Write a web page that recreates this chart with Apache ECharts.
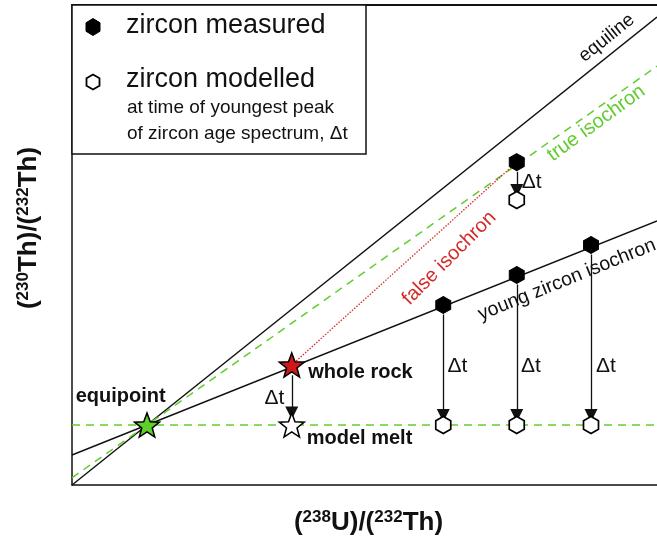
<!DOCTYPE html>
<html>
<head>
<meta charset="utf-8">
<script src="https://cdn.jsdelivr.net/npm/echarts@6/dist/echarts.min.js"></script>
<style>html,body{margin:0;padding:0;background:#fff}#c{width:657px;height:537px}</style>
</head>
<body>
<div id="c"></div>
<script>
// ---- data (schematic units) ----
const equiline = [[0, 0], [7.8, 7.8]];
const trueIsochron = [[0, 0.12], [7.8, 6.98]];
const youngIsochron = [[0, 0.5], [7.8, 4.4]];
const meltLevel = [[0, 1], [7.8, 1]];
const falseIsochron = [[2.93, 2.0], [5.93, 5.38]];
const equipoint = [1, 1];
const wholeRock = [2.93, 2.0];
const modelMelt = [2.93, 1.0];
const zirconMeasured = [[5.93, 5.38], [4.95, 3.0], [5.93, 3.5], [6.92, 4.0]];
const zirconModelled = [[5.93, 4.75], [4.95, 1.0], [5.93, 1.0], [6.92, 1.0]];
const deltaLabel = 'Δt';

const FONT = 'Liberation Sans, Arial, sans-serif';
const GREEN = '#62cc2f';
const RED = '#d42a2a';

function starPath() {
  const pts = [];
  for (let i = 0; i < 10; i++) {
    const r = i % 2 === 0 ? 1 : 0.42;
    const a = -Math.PI / 2 + i * Math.PI / 5;
    pts.push((r * Math.cos(a)).toFixed(3) + ',' + (r * Math.sin(a)).toFixed(3));
  }
  return 'path://M' + pts.join(' L') + ' Z';
}
const STAR = starPath();
const HEX = 'path://M0,-1 L0.866,-0.5 L0.866,0.5 L0,1 L-0.866,0.5 L-0.866,-0.5 Z';
const ARROW = 'path://M5,0 L10,14 L0,14 Z';

function hexPoints(cx, cy, rx, ry) {
  return [[cx, cy - ry], [cx + rx, cy - ry / 2], [cx + rx, cy + ry / 2], [cx, cy + ry], [cx - rx, cy + ry / 2], [cx - rx, cy - ry / 2]];
}

// arrows from measured to modelled (gaps keep heads clear of symbols)
const arrows = [];
arrows.push([[wholeRock[0], wholeRock[1] - 0.17], [modelMelt[0], modelMelt[1] + 0.2]]);
zirconMeasured.forEach((m, i) => {
  const d = zirconModelled[i];
  arrows.push([[m[0], m[1] - 0.16], [d[0], d[1] + 0.16]]);
});

function lineSeries(data, color, type, width) {
  return {
    type: 'line', data: data, symbol: 'none', silent: true, z: 2,
    lineStyle: { color: color, width: width || 1.5, type: type || 'solid' }
  };
}

const annotations = [
  { value: [0.05, 1.47], label: { formatter: 'equipoint', align: 'left', fontWeight: 'bold', fontSize: 20 } },
  { value: [wholeRock[0] + 0.22, wholeRock[1] - 0.13], label: { formatter: 'whole rock', align: 'left', fontWeight: 'bold', fontSize: 20 } },
  { value: [modelMelt[0] + 0.2, modelMelt[1] - 0.22], label: { formatter: 'model melt', align: 'left', fontWeight: 'bold', fontSize: 20 } },
  { value: [wholeRock[0] - 0.23, 1.45], label: { formatter: deltaLabel } },
  { value: [zirconMeasured[0][0] + 0.2, 5.05], label: { formatter: deltaLabel } },
  { value: [zirconMeasured[1][0] + 0.19, 1.98], label: { formatter: deltaLabel } },
  { value: [zirconMeasured[2][0] + 0.19, 1.98], label: { formatter: deltaLabel } },
  { value: [zirconMeasured[3][0] + 0.2, 1.98], label: { formatter: deltaLabel } },
  { value: [7.13, 7.45], label: { formatter: 'equiline', rotate: 38.7, fontSize: 19 } },
  { value: [6.99, 6.03], label: { formatter: 'true isochron', rotate: 36, fontSize: 20, color: GREEN } },
  { value: [5.03, 3.78], label: { formatter: 'false isochron', rotate: 45, fontSize: 20, color: RED } },
  { value: [6.6, 3.42], label: { formatter: 'young zircon isochron', rotate: 22, fontSize: 19.5 } }
];

const supStyle = { fontFamily: FONT, fontWeight: 'bold', fontSize: 17, color: '#111', padding: [0, 0, 10, 0] };

const chart = echarts.init(document.getElementById('c'), null, { renderer: 'canvas' });
chart.setOption({
  animation: false,
  backgroundColor: '#fff',
  grid: { left: 72, top: 5, width: 585, height: 480, show: false, outerBoundsMode: 'none', containLabel: false },
  xAxis: [{
    type: 'value', min: 0, max: 7.8,
    axisLine: { show: true, lineStyle: { color: '#111', width: 1.5 } },
    axisTick: { show: false }, axisLabel: { show: false }, splitLine: { show: false },
    name: '({sup|238}U)/({sup|232}Th)', nameLocation: 'middle', nameGap: 24,
    nameTextStyle: {
      fontFamily: FONT, fontWeight: 'bold', fontSize: 26, color: '#111', padding: [0, 0, 0, 8],
      rich: { sup: supStyle }
    }
  }, {
    type: 'value', min: 0, max: 7.8, position: 'top',
    axisLine: { show: true, onZero: false, lineStyle: { color: '#111', width: 2 } },
    axisTick: { show: false }, axisLabel: { show: false }, splitLine: { show: false }
  }],
  yAxis: {
    type: 'value', min: 0, max: 8,
    axisLine: { show: true, lineStyle: { color: '#111', width: 1.5 } },
    axisTick: { show: false }, axisLabel: { show: false }, splitLine: { show: false },
    name: '({sup|230}Th)/({sup|232}Th)', nameLocation: 'middle', nameGap: 30, nameRotate: 90,
    nameTextStyle: {
      fontFamily: FONT, fontWeight: 'bold', fontSize: 26, color: '#111', padding: [0, 0, 0, 34],
      rich: { sup: supStyle }
    }
  },
  series: [
    lineSeries(equiline, '#111'),
    lineSeries(trueIsochron, GREEN, [8, 6]),
    lineSeries(youngIsochron, '#111'),
    lineSeries(meltLevel, GREEN, [8, 6]),
    lineSeries(falseIsochron, RED, [1.5, 1.5], 1.3),
    {
      type: 'lines', coordinateSystem: 'cartesian2d', silent: true, z: 3,
      symbol: ['none', ARROW], symbolSize: [8, 13],
      lineStyle: { color: '#111', width: 1.3, opacity: 1 },
      data: arrows.map(a => ({ coords: a }))
    },
    {
      type: 'scatter', name: 'zircon measured', data: zirconMeasured, symbol: HEX, symbolSize: [15, 17], z: 5,
      itemStyle: { color: '#000', borderColor: '#000', borderWidth: 1, opacity: 1 }
    },
    {
      type: 'scatter', name: 'zircon modelled', data: zirconModelled, symbol: HEX, symbolSize: [15, 17], z: 5,
      itemStyle: { color: '#fff', borderColor: '#000', borderWidth: 1.8, opacity: 1 }
    },
    {
      type: 'scatter', name: 'stars', symbol: STAR, symbolSize: [25, 24], z: 6,
      data: [
        { value: equipoint, itemStyle: { color: '#5fd02a' } },
        { value: wholeRock, itemStyle: { color: '#d01818' } },
        { value: modelMelt, itemStyle: { color: '#ffffff' } }
      ],
      itemStyle: { borderColor: '#000', borderWidth: 1.5, opacity: 1 }
    },
    {
      type: 'scatter', name: 'annotations', symbolSize: 0, silent: true, z: 7,
      data: annotations,
      label: { show: true, position: 'inside', fontFamily: FONT, color: '#111', fontSize: 21, textBorderWidth: 0, opacity: 1 }
    }
  ],
  graphic: [
    { type: 'rect', z: 100, shape: { x: 72, y: 5, width: 294, height: 149 }, style: { fill: '#fff', stroke: '#111', lineWidth: 1.5 } },
    { type: 'polygon', z: 101, shape: { points: hexPoints(93, 27, 7, 8.5) }, style: { fill: '#000', stroke: '#000' } },
    { type: 'text', z: 101, x: 126, y: 26, style: { text: 'zircon measured', font: '27px ' + FONT, fill: '#111', verticalAlign: 'middle' } },
    { type: 'polygon', z: 101, shape: { points: hexPoints(93, 82, 6.5, 7.5) }, style: { fill: '#fff', stroke: '#000', lineWidth: 1.8 } },
    { type: 'text', z: 101, x: 126, y: 80, style: { text: 'zircon modelled', font: '27px ' + FONT, fill: '#111', verticalAlign: 'middle' } },
    { type: 'text', z: 101, x: 127, y: 108, style: { text: 'at time of youngest peak', font: '19px ' + FONT, fill: '#111', verticalAlign: 'middle' } },
    { type: 'text', z: 101, x: 127, y: 134, style: { text: 'of zircon age spectrum, Δt', font: '19px ' + FONT, fill: '#111', verticalAlign: 'middle' } }
  ]
});
</script>
</body>
</html>
